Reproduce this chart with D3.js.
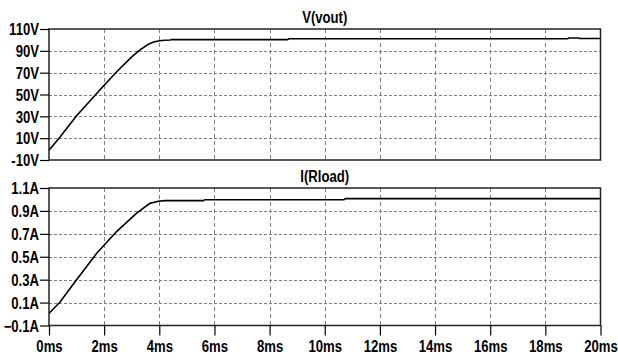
<!DOCTYPE html>
<html>
<head>
<meta charset="utf-8">
<script src="https://cdn.jsdelivr.net/npm/d3@7"></script>
<style>
  body { margin: 0; background: #fff; }
  text { font-family: "Liberation Sans", Arial, sans-serif; font-weight: bold; fill: #000; }
</style>
</head>
<body>
<div id="main"></div>
<script>
var ctx = { w: 618, h: 360, squeeze: 0.82 };

// time axis (ms)
var timeTicks = [0, 2, 4, 6, 8, 10, 12, 14, 16, 18, 20];

// V(vout) trace
var vTime = [0, 0.4, 1.0, 1.5, 2.0, 2.5, 3.0, 3.3, 3.6, 3.8, 4.0, 4.2, 4.4, 4.45, 8.65, 8.7, 18.8, 18.85, 19.2, 19.25, 20];
var vVolts = [-1, 11, 30.5, 44.5, 58.5, 72, 84.5, 90.8, 96, 98, 99.3, 99.7, 99.9, 100.3, 100.3, 101.1, 101.1, 101.8, 101.8, 101.3, 101.3];
var vTicks = [-10, 10, 30, 50, 70, 90, 110];

// I(Rload) trace
var iTime = [0, 0.4, 1.0, 1.73, 2.45, 3.18, 3.66, 3.96, 4.2, 5.6, 5.65, 10.7, 10.75, 20];
var iAmps = [0.005, 0.105, 0.30, 0.53, 0.72, 0.88, 0.966, 0.985, 0.99, 0.99, 0.998, 0.998, 1.007, 1.007];
var iTicks = [-0.1, 0.1, 0.3, 0.5, 0.7, 0.9, 1.1];

var svg = d3.select("#main").append("svg")
  .attr("width", ctx.w)
  .attr("height", ctx.h);

var x = d3.scaleLinear().domain([0, 20]).range([49, 600.5]);

// the original font is tall and narrow, so squeeze the text horizontally
var narrow = function(sel) {
  sel.each(function() {
    var t = d3.select(this);
    var tx = +t.attr("x") || 0;
    t.attr("x", 0)
     .attr("transform", "translate(" + tx + ",0) scale(" + ctx.squeeze + ",1)");
  });
};

var drawPanel = function(opts) {
  var y = d3.scaleLinear().domain(opts.domain).range([opts.bottom, opts.top]);
  var g = svg.append("g");

  // grid
  g.append("g").selectAll("line")
    .data(opts.ticks.slice(1, -1))
    .enter().append("line")
    .attr("x1", x(0)).attr("x2", x(20))
    .attr("y1", function(d) { return Math.round(y(d)) + 0.5; })
    .attr("y2", function(d) { return Math.round(y(d)) + 0.5; })
    .style("stroke", "#808080")
    .style("stroke-dasharray", "3,2");
  g.append("g").selectAll("line")
    .data(timeTicks.slice(1, -1))
    .enter().append("line")
    .attr("x1", function(d) { return Math.round(x(d)) + 0.5; })
    .attr("x2", function(d) { return Math.round(x(d)) + 0.5; })
    .attr("y1", opts.top).attr("y2", opts.bottom)
    .style("stroke", "#808080")
    .style("stroke-dasharray", "4,3");

  // trace
  var pts = opts.t.map(function(t, i) { return [t, opts.v[i]]; });
  g.append("path")
    .datum(pts)
    .attr("d", d3.line().x(function(d) { return x(d[0]); }).y(function(d) { return y(d[1]); }))
    .style("fill", "none")
    .style("stroke", "#000")
    .style("stroke-width", 1.6);

  // frame
  g.append("rect")
    .attr("x", x(0)).attr("y", opts.top)
    .attr("width", x(20) - x(0)).attr("height", opts.bottom - opts.top)
    .style("fill", "none")
    .style("stroke", "#222")
    .style("stroke-width", 1.5);

  // y axis
  var ax = g.append("g")
    .attr("transform", "translate(" + x(0) + ",0)")
    .call(d3.axisLeft(y).tickValues(opts.ticks).tickSize(9).tickPadding(1).tickFormat(opts.fmt));
  ax.select(".domain").remove();
  ax.selectAll("line").style("stroke", "#000").style("stroke-width", 1.2);
  ax.selectAll("text").style("font-size", "16px").attr("dy", "0.36em").call(narrow);

  // title
  g.append("text")
    .attr("x", (x(0) + x(20)) / 2)
    .attr("y", opts.top - 6)
    .attr("text-anchor", "middle")
    .style("font-size", "16px")
    .text(opts.title)
    .call(narrow);

  return y;
};

drawPanel({
  top: 29, bottom: 160, domain: [-10, 110], ticks: vTicks,
  t: vTime, v: vVolts, title: "V(vout)",
  fmt: function(d) { return d + "V"; }
});

drawPanel({
  top: 188, bottom: 325.5, domain: [-0.1, 1.1], ticks: iTicks,
  t: iTime, v: iAmps, title: "I(Rload)",
  fmt: function(d) { return d3.format(".1f")(d) + "A"; }
});

// time axis
var xa = svg.append("g")
  .attr("transform", "translate(0,325.5)")
  .call(d3.axisBottom(x).tickValues(timeTicks).tickSize(10).tickPadding(5).tickFormat(function(d) { return d + "ms"; }));
xa.select(".domain").remove();
xa.selectAll("line").style("stroke", "#000").style("stroke-width", 1.2);
xa.selectAll("text").style("font-size", "16px").call(narrow);
</script>
</body>
</html>
